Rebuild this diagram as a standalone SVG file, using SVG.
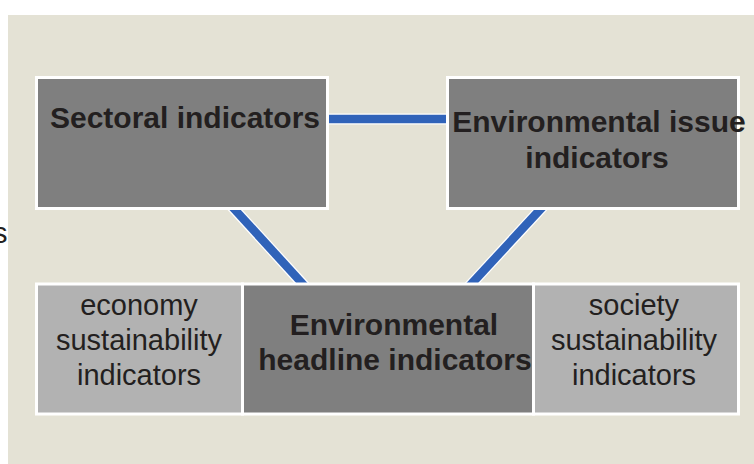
<svg xmlns="http://www.w3.org/2000/svg" width="754" height="464" viewBox="0 0 754 464">
  <defs>
    <style>
      .dark { fill: #7f7f7f; stroke: #ffffff; stroke-width: 3; }
      .light { fill: #b2b2b2; stroke: #ffffff; stroke-width: 3; }
      .bold { font-family: "Liberation Sans", Arial, Helvetica, sans-serif; font-weight: bold; font-size: 30px; fill: #231f20; text-anchor: middle; }
      .reg { font-family: "Liberation Sans", Arial, Helvetica, sans-serif; font-size: 29px; fill: #231f20; text-anchor: middle; }
      .halo { stroke: #ffffff; stroke-width: 11; fill: none; }
      .link { stroke: #3063b9; stroke-width: 8.5; fill: none; }
    </style>
  </defs>

  <!-- page background -->
  <rect x="0" y="0" width="754" height="464" fill="#ffffff"/>
  <rect x="8" y="15" width="746" height="449" fill="#e4e2d5"/>

  <!-- clipped letter at left margin -->
  <text x="7.5" y="243" class="reg" style="text-anchor:end">s</text>

  <!-- connectors -->
  <g id="connectors">
    <line class="halo" x1="320" y1="119" x2="455" y2="119"/>
    <line class="halo" x1="226" y1="200" x2="311" y2="293"/>
    <line class="halo" x1="549" y1="200" x2="463" y2="293"/>
    <line class="link" x1="320" y1="119" x2="455" y2="119"/>
    <line class="link" x1="226" y1="200" x2="311" y2="293"/>
    <line class="link" x1="549" y1="200" x2="463" y2="293"/>
  </g>

  <g id="sectoral">
    <rect class="dark" x="36.5" y="77.5" width="291" height="131"/>
    <text class="bold" x="185" y="128">Sectoral indicators</text>
  </g>

  <g id="issue">
    <rect class="dark" x="447.5" y="77.5" width="291" height="131"/>
    <text class="bold" x="599" y="132">Environmental issue</text>
    <text class="bold" x="597" y="168">indicators</text>
  </g>

  <g id="economy">
    <rect class="light" x="36.5" y="284" width="206" height="130"/>
    <text class="reg" x="139" y="315">economy</text>
    <text class="reg" x="139" y="350">sustainability</text>
    <text class="reg" x="139" y="385">indicators</text>
  </g>

  <g id="headline">
    <rect class="dark" x="242.5" y="284" width="291" height="130"/>
    <text class="bold" x="394" y="335">Environmental</text>
    <text class="bold" x="395" y="370">headline indicators</text>
  </g>

  <g id="society">
    <rect class="light" x="533.5" y="284" width="205" height="130"/>
    <text class="reg" x="634" y="315">society</text>
    <text class="reg" x="634" y="350">sustainability</text>
    <text class="reg" x="634" y="385">indicators</text>
  </g>
</svg>
